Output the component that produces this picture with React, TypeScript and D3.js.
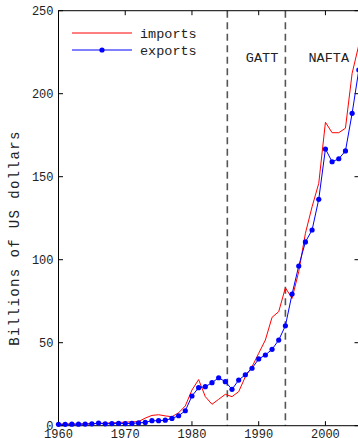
import React, { useEffect, useRef } from 'react';
import * as d3 from 'd3';

const years = d3.range(1960, 2006);

// billions of US dollars
const imports = [
  0.9, 1.0, 1.0, 1.0, 1.1, 1.2, 1.4, 1.5, 1.7, 1.9, 2.2, 2.3, 2.5, 4.6, 6.2, 6.6,
  5.9, 5.4, 7.8, 11.9, 21.5, 27.8, 17.5, 12.9, 15.9, 18.9, 17.5, 20.5, 29.5, 35.5,
  43.6, 51.6, 65.3, 68.7, 83.1, 76.7, 92.8, 115.9, 131.9, 146.0, 182.8, 176.5,
  176.5, 179.2, 212.3, 229.3
];

const exports = [
  0.8, 0.8, 0.9, 0.9, 1.0, 1.1, 1.6, 1.1, 1.3, 1.4, 1.3, 1.4, 1.7, 2.0, 3.0, 3.0,
  3.3, 4.4, 6.0, 9.0, 17.9, 22.9, 23.5, 25.9, 28.9, 26.5, 21.9, 27.5, 30.7, 34.6,
  40.2, 42.6, 46.0, 51.6, 60.2, 79.3, 96.2, 110.7, 117.9, 136.4, 166.7, 159.0,
  160.8, 165.5, 188.2, 214.3
];

const xTicks = [1960, 1970, 1980, 1990, 2000];
const yTicks = [0, 50, 100, 150, 200, 250];

const events = [
  { name: 'GATT', year: 1985.3, labelYear: 1990.5 },
  { name: 'NAFTA', year: 1994, labelYear: 2000.5 }
];

const mono = '"Liberation Mono", "Courier New", monospace';

const App = () => {
  const ref = useRef(null);

  useEffect(() => {
    const svg = d3.select(ref.current);
    svg.selectAll('*').remove();

    const left = 58.5;
    const right = 359;
    const top = 10.7;
    const bottom = 425.7;

    const x = d3.scaleLinear().domain([1960, 2005]).range([left, 358.8]);
    const y = d3.scaleLinear().domain([0, 250]).range([bottom, top]);

    // event lines
    svg.append('g')
      .selectAll('line')
      .data(events)
      .enter()
      .append('line')
      .attr('x1', d => x(d.year))
      .attr('x2', d => x(d.year))
      .attr('y1', top)
      .attr('y2', bottom)
      .attr('stroke', '#555')
      .attr('stroke-width', 1.6)
      .attr('stroke-dasharray', '7,4.5');

    svg.append('g')
      .selectAll('text')
      .data(events)
      .enter()
      .append('text')
      .attr('x', d => x(d.labelYear))
      .attr('y', 62)
      .attr('text-anchor', 'middle')
      .style('font-family', mono)
      .style('font-size', '13.5px')
      .attr('fill', '#222')
      .text(d => d.name);

    // frame
    svg.append('rect')
      .attr('x', left)
      .attr('y', top)
      .attr('width', right - left)
      .attr('height', bottom - top)
      .attr('fill', 'none')
      .attr('stroke', '#000')
      .attr('stroke-width', 1);

    // ticks, all pointing inwards
    const tk = 4.5;
    const g = svg.append('g').attr('stroke', '#000').attr('stroke-width', 1);
    xTicks.forEach(t => {
      g.append('line').attr('x1', x(t)).attr('x2', x(t)).attr('y1', bottom).attr('y2', bottom - tk);
      g.append('line').attr('x1', x(t)).attr('x2', x(t)).attr('y1', top).attr('y2', top + tk);
    });
    yTicks.forEach(t => {
      g.append('line').attr('x1', left).attr('x2', left + tk).attr('y1', y(t)).attr('y2', y(t));
      g.append('line').attr('x1', right).attr('x2', right - tk).attr('y1', y(t)).attr('y2', y(t));
    });

    svg.append('g')
      .selectAll('text')
      .data(xTicks)
      .enter()
      .append('text')
      .attr('x', d => x(d))
      .attr('y', 437.5)
      .attr('text-anchor', 'middle')
      .style('font-family', mono)
      .style('font-size', '12px')
      .attr('fill', '#222')
      .text(d => d);

    svg.append('g')
      .selectAll('text')
      .data(yTicks)
      .enter()
      .append('text')
      .attr('x', left - 5)
      .attr('y', d => y(d) + 4)
      .attr('text-anchor', 'end')
      .style('font-family', mono)
      .style('font-size', '12px')
      .attr('fill', '#222')
      .text(d => d);

    svg.append('text')
      .attr('transform', 'translate(18.5,238) rotate(-90)')
      .attr('text-anchor', 'middle')
      .style('font-family', mono)
      .style('font-size', '14px')
      .style('letter-spacing', '1.4px')
      .attr('fill', '#222')
      .text('Billions of US dollars');

    const line = d3.line()
      .x((d, i) => x(years[i]))
      .y(d => y(d));

    svg.append('path')
      .attr('d', line(imports))
      .attr('fill', 'none')
      .attr('stroke', '#ff0000')
      .attr('stroke-width', 1);

    svg.append('path')
      .attr('d', line(exports))
      .attr('fill', 'none')
      .attr('stroke', '#0000ff')
      .attr('stroke-width', 1);

    svg.append('g')
      .selectAll('circle')
      .data(exports)
      .enter()
      .append('circle')
      .attr('cx', (d, i) => x(years[i]))
      .attr('cy', d => y(d))
      .attr('r', 2.6)
      .attr('fill', '#0000ff');

    // legend
    const legend = svg.append('g');
    legend.append('line')
      .attr('x1', 72).attr('x2', 132).attr('y1', 33).attr('y2', 33)
      .attr('stroke', '#ff0000');
    legend.append('text')
      .attr('x', 140).attr('y', 37.5)
      .style('font-family', mono)
      .style('font-size', '13.5px')
      .attr('fill', '#222')
      .text('imports');
    legend.append('line')
      .attr('x1', 72).attr('x2', 132).attr('y1', 50).attr('y2', 50)
      .attr('stroke', '#0000ff');
    legend.append('circle')
      .attr('cx', 102).attr('cy', 50).attr('r', 2.6)
      .attr('fill', '#0000ff');
    legend.append('text')
      .attr('x', 140).attr('y', 54.5)
      .style('font-family', mono)
      .style('font-size', '13.5px')
      .attr('fill', '#222')
      .text('exports');
  }, []);

  return (
    <svg
      ref={ref}
      width={358}
      height={438}
      style={{ position: 'absolute', left: 0, top: 0, background: '#fff' }}
    />
  );
};

export default App;
